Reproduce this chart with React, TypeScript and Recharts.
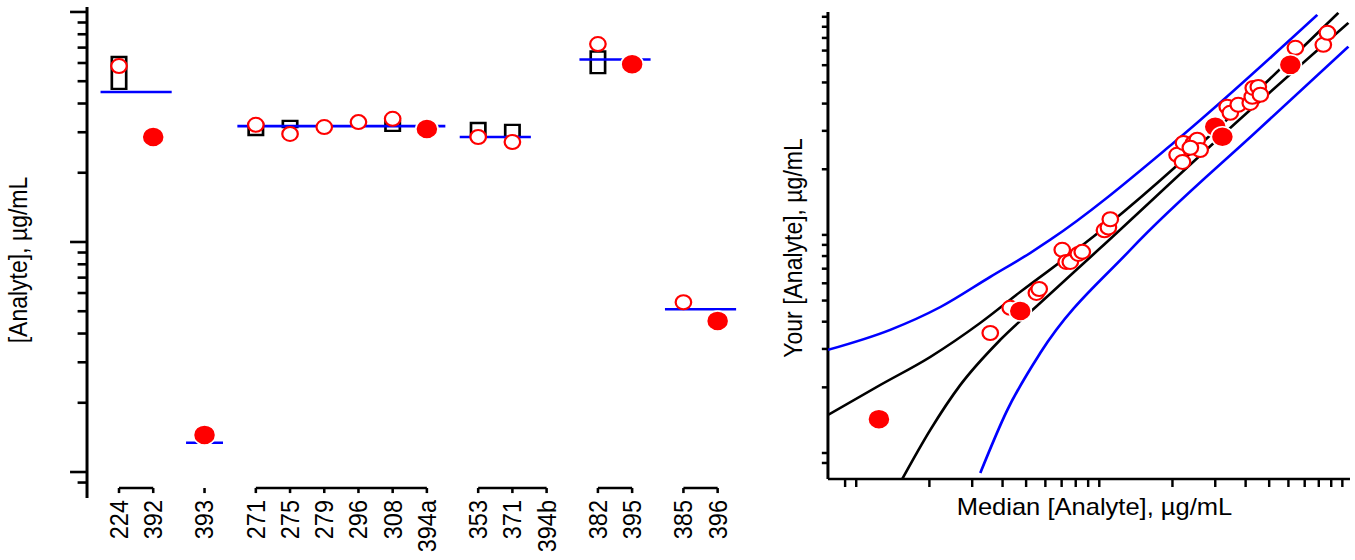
import React from 'react';
import { ComposedChart, Scatter, XAxis, YAxis, ReferenceLine, ReferenceArea } from 'recharts';

// Whole figure is laid out on a narrower canvas and widened horizontally.
const STRETCH = 1.11;
const PAGE_W = 1355;
const PAGE_H = 560;
const BASE_W = PAGE_W / STRETCH;
const LEFT_W = 700;
const RIGHT_W = BASE_W - LEFT_W;

const FONT = '"Liberation Sans", Arial, Helvetica, sans-serif';
const RED = '#ff0000';
const BLUE = '#0000ff';
const INK = '#000000';

// ---------- Left panel: results per lab, grouped by sample ----------
const sampleGroups: string[][] = [
  ['224', '392'],
  ['393'],
  ['271', '275', '279', '296', '308', '394a'],
  ['353', '371', '394b'],
  ['382', '395'],
  ['385', '396'],
];
const groupMedians = [44.9, 1.34, 31.9, 28.6, 62.1, 5.1];

const peerLabs = ['224', '271', '275', '279', '296', '308', '353', '371', '382', '385'];
const peerValues = [58.2, 32.3, 29.5, 31.6, 33.2, 34.3, 28.6, 27.2, 72.5, 5.47];

const ownLabs = ['392', '393', '394a', '395', '396'];
const ownValues = [28.6, 1.45, 31.0, 59.3, 4.54];

const rangeLabs = ['224', '271', '275', '308', '353', '371', '382'];
const rangeLow = [46.3, 29.2, 31.6, 30.4, 28.6, 28.6, 54.2];
const rangeHigh = [63.7, 32.6, 33.6, 33.5, 32.9, 32.3, 67.3];

const logTicks = [0.9, 1, 2, 3, 4, 5, 6, 7, 8, 9, 10, 20, 30, 40, 50, 60, 70, 80, 90, 100];
const majorTicks = [1, 10, 100];

// ---------- Right panel: reported vs. median ----------
const peerMedian = [3.56, 4.3, 5.51, 5.66, 7.04, 7.31, 7.6, 8.2, 8.51, 10.5, 10.9, 11.1, 20.9, 22.0, 22.2, 24.4, 25.3, 26.0, 23.7, 33.6, 34.6, 37.3, 41.8, 42.6, 43.0, 45.1, 46.0, 64.1, 83.5, 86.8];
const peerReported = [3.55, 4.63, 5.42, 5.65, 8.54, 7.52, 7.52, 8.18, 8.36, 10.5, 10.8, 11.8, 23.3, 21.6, 26.4, 26.4, 27.3, 24.5, 25.1, 38.7, 36.3, 39.5, 40.3, 43.0, 47.2, 47.7, 43.9, 72.1, 74.4, 84.5];
const ownMedian = [1.24, 4.73, 30.0, 32.1, 61.1];
const ownReported = [1.43, 4.48, 31.3, 28.2, 60.2];

// Acceptance limits (outer, blue) and inner limits (black)
const outerUpperX = [0.765, 1.38, 2.22, 3.56, 5.2, 6.28, 20.2, 78.9];
const outerUpperY = [2.97, 3.67, 4.67, 6.42, 8.27, 9.49, 26.4, 102];
const outerLowerX = [3.24, 4.18, 5.72, 13.4, 46.0, 105.9];
const outerLowerY = [0.81, 1.57, 2.875, 8.53, 30.96, 72.9];
const innerUpperX = [0.765, 1.255, 2.016, 3.24, 4.73, 8.35, 96.3];
const innerUpperY = [1.494, 2.05, 2.757, 3.95, 5.48, 8.81, 104.3];
const innerLowerX = [1.546, 2.016, 2.68, 3.91, 5.72, 9.9, 34.6, 105.9];
const innerLowerY = [0.76, 1.275, 2.05, 3.3, 4.88, 8.53, 30.96, 93.8];

// ---------- derived layout of the lab axis ----------
type Slot = { lab: string; pos: number; group: number };
const slots: Slot[] = [];
{
  let cursor = 0;
  sampleGroups.forEach((labs, g) => {
    labs.forEach((lab) => {
      slots.push({ lab, pos: cursor, group: g });
      cursor += 1;
    });
    cursor += 0.5;
  });
}
const posOf = (lab: string) => (slots.find((s) => s.lab === lab) as Slot).pos;
const labAt = (pos: number) => slots.find((s) => Math.abs(s.pos - pos) < 1e-6)?.lab ?? '';

const peerPoints = peerLabs.map((lab, i) => ({ x: posOf(lab), y: peerValues[i] }));
const ownPoints = ownLabs.map((lab, i) => ({ x: posOf(lab), y: ownValues[i] }));
const hasResult = (lab: string) => peerLabs.includes(lab) || ownLabs.includes(lab);

const zip = (xs: number[], ys: number[]) => xs.map((x, i) => ({ x, y: ys[i] }));

const BOX_HALF = 0.21;
const MEDIAN_OVERHANG = 0.54;
const BRACKET_TOP = 0.852;
const BRACKET_FOOT = 0.81;

// ---------- marks ----------
const OpenMarker = (p: any) => (
  <circle cx={p.cx} cy={p.cy} r={7} fill="#ffffff" stroke={RED} strokeWidth={2} />
);
const FilledMarker = (p: any) => (
  <circle cx={p.cx} cy={p.cy} r={10} fill={RED} stroke="#ffffff" strokeWidth={1.5} />
);
const NoMarker = () => <g />;

const LeftYTick = (p: any) => {
  const len = majorTicks.includes(p.payload.value) ? 15.3 : 8.5;
  return <line x1={p.x} x2={p.x - len} y1={p.y} y2={p.y} stroke={INK} strokeWidth={2.6} />;
};

const LabTick = (p: any) => (
  <text
    x={p.x}
    y={p.y}
    transform={`rotate(-90, ${p.x}, ${p.y})`}
    textAnchor="end"
    dominantBaseline="central"
    fontSize={23.5}
    fontFamily={FONT}
    fill={INK}
  >
    {labAt(p.payload.value)}
  </text>
);

const RightYTick = (p: any) => (
  <line x1={p.x} x2={p.x - 5.5} y1={p.y} y2={p.y} stroke={INK} strokeWidth={2.5} />
);
const RightXTick = (p: any) => (
  <line x1={p.x} x2={p.x} y1={p.y} y2={p.y + 8} stroke={INK} strokeWidth={2.2} />
);

const LeftPanel = () => (
  <ComposedChart width={LEFT_W} height={PAGE_H} margin={{ top: 7, right: 27.9, bottom: 2, left: 18.4 }}>
    <XAxis
      type="number"
      dataKey="x"
      domain={[-0.935, 18.33]}
      allowDataOverflow
      ticks={slots.map((s) => s.pos)}
      interval={0}
      axisLine={false}
      tickLine={false}
      tickSize={0}
      tickMargin={2}
      height={60}
      tick={LabTick}
    />
    <YAxis
      type="number"
      dataKey="y"
      scale="log"
      domain={[0.771, 105.1]}
      allowDataOverflow
      ticks={logTicks}
      interval={0}
      axisLine={{ stroke: INK, strokeWidth: 2.7 }}
      tickLine={false}
      tickSize={0}
      tickMargin={0}
      width={60}
      tick={LeftYTick}
      label={() => (
        <text
          x={16.2}
          y={260}
          transform="rotate(-90, 16.2, 260)"
          textAnchor="middle"
          dominantBaseline="central"
          fontSize={23}
          fontFamily={FONT}
          fill={INK}
        >
          [Analyte], µg/mL
        </text>
      )}
    />
    {rangeLabs.map((lab, i) => (
      <ReferenceArea
        key={`box-${lab}`}
        x1={posOf(lab) - BOX_HALF}
        x2={posOf(lab) + BOX_HALF}
        y1={rangeLow[i]}
        y2={rangeHigh[i]}
        fill="none"
        fillOpacity={0}
        stroke={INK}
        strokeWidth={2.4}
        strokeOpacity={1}
      />
    ))}
    {sampleGroups.map((labs, g) => {
      const used = labs.filter(hasResult).map(posOf);
      return (
        <ReferenceLine
          key={`median-${g}`}
          segment={[
            { x: Math.min(...used) - MEDIAN_OVERHANG, y: groupMedians[g] },
            { x: Math.max(...used) + MEDIAN_OVERHANG, y: groupMedians[g] },
          ]}
          stroke={BLUE}
          strokeWidth={2.6}
        />
      );
    })}
    {sampleGroups.map((labs, g) =>
      labs.length > 1 ? (
        <ReferenceLine
          key={`bracket-${g}`}
          segment={[
            { x: posOf(labs[0]), y: BRACKET_TOP },
            { x: posOf(labs[labs.length - 1]), y: BRACKET_TOP },
          ]}
          stroke={INK}
          strokeWidth={2.6}
        />
      ) : null
    )}
    {slots.map((s) => (
      <ReferenceLine
        key={`foot-${s.lab}`}
        segment={[
          { x: s.pos, y: BRACKET_TOP },
          { x: s.pos, y: BRACKET_FOOT },
        ]}
        stroke={INK}
        strokeWidth={2.3}
      />
    ))}
    <Scatter data={peerPoints} shape={OpenMarker} isAnimationActive={false} />
    <Scatter data={ownPoints} shape={FilledMarker} isAnimationActive={false} />
  </ComposedChart>
);

const RightPanel = () => (
  <ComposedChart width={RIGHT_W} height={PAGE_H} margin={{ top: 12, right: 4.52, bottom: 31, left: 5.9 }}>
    <XAxis
      type="number"
      dataKey="x"
      scale="log"
      domain={[0.765, 107.5]}
      allowDataOverflow
      ticks={logTicks}
      interval={0}
      axisLine={{ stroke: INK, strokeWidth: 2.6 }}
      tickLine={false}
      tickSize={0}
      tickMargin={0}
      height={50}
      tick={RightXTick}
      label={() => (
        <text x={286} y={515} textAnchor="middle" fontSize={23} fontFamily={FONT} fill={INK}>
          Median [Analyte], µg/mL
        </text>
      )}
    />
    <YAxis
      type="number"
      dataKey="y"
      scale="log"
      domain={[0.76, 105.2]}
      allowDataOverflow
      ticks={logTicks}
      interval={0}
      axisLine={{ stroke: INK, strokeWidth: 2.7 }}
      tickLine={false}
      tickSize={0}
      tickMargin={0}
      width={40}
      tick={RightYTick}
      label={() => (
        <text
          x={14.4}
          y={248}
          transform="rotate(-90, 14.4, 248)"
          textAnchor="middle"
          dominantBaseline="central"
          fontSize={23}
          fontFamily={FONT}
          fill={INK}
        >
          Your [Analyte], µg/mL
        </text>
      )}
    />
    <Scatter data={zip(outerUpperX, outerUpperY)} shape={NoMarker} line={{ stroke: BLUE, strokeWidth: 2.5 }} lineJointType="monotoneX" isAnimationActive={false} />
    <Scatter data={zip(outerLowerX, outerLowerY)} shape={NoMarker} line={{ stroke: BLUE, strokeWidth: 2.5 }} lineJointType="monotoneX" isAnimationActive={false} />
    <Scatter data={zip(innerUpperX, innerUpperY)} shape={NoMarker} line={{ stroke: INK, strokeWidth: 2.5 }} lineJointType="monotoneX" isAnimationActive={false} />
    <Scatter data={zip(innerLowerX, innerLowerY)} shape={NoMarker} line={{ stroke: INK, strokeWidth: 2.5 }} lineJointType="monotoneX" isAnimationActive={false} />
    <Scatter data={zip(peerMedian, peerReported)} shape={OpenMarker} isAnimationActive={false} />
    <Scatter data={zip(ownMedian, ownReported)} shape={FilledMarker} isAnimationActive={false} />
  </ComposedChart>
);

export default function App() {
  return (
    <div style={{ position: 'absolute', left: 0, top: 0, width: PAGE_W, height: PAGE_H, overflow: 'hidden', background: '#ffffff' }}>
      <div
        style={{
          width: BASE_W,
          height: PAGE_H,
          display: 'flex',
          transform: `scaleX(${STRETCH})`,
          transformOrigin: '0 0',
        }}
      >
        <LeftPanel />
        <RightPanel />
      </div>
    </div>
  );
}
